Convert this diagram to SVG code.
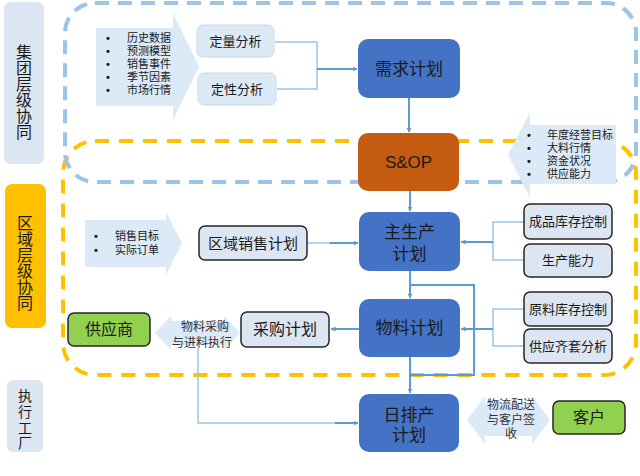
<svg xmlns="http://www.w3.org/2000/svg" width="640" height="476" viewBox="0 0 640 476">
<style>
text{font-family:"Liberation Sans","Noto Sans CJK SC",sans-serif;fill:#1a1a1a;text-anchor:middle;dominant-baseline:central}
.lab{fill:#dce6f2}
.main{fill:#4472c4}
.lb{fill:#dce9f6}
.bx{fill:#dce6f2;stroke:#262626;stroke-width:1.5}
.gr{fill:#92d050;stroke:#262626;stroke-width:1.5}
.soft{fill:#dce9f6;stroke:#c6d9ef;stroke-width:1}
.t17{font-size:17px}
.v16{font-size:16px}
.v15{font-size:14px}
.t13{font-size:13px}
.t11{font-size:11px;text-anchor:start}
.t12{font-size:12px;fill:#333}
.bl{font-size:11px;font-weight:bold}
.c{fill:none;stroke:#5b9bd5;stroke-width:2}
.c2{fill:none;stroke:#9dc3e6;stroke-width:1.5}
</style>
<defs>
<marker id="ah" viewBox="0 0 10 10" refX="9" refY="5" markerWidth="5" markerHeight="5" orient="auto" markerUnits="userSpaceOnUse">
<path d="M0,0 L10,5 L0,10 Z" fill="#5b9bd5"/>
</marker>
</defs>
<rect width="640" height="476" fill="#ffffff"/>

<g id="zones">
<rect x="63" y="141" width="573" height="234" rx="32" fill="none" stroke="#ffc000" stroke-width="4" stroke-dasharray="14 10"/>
<rect x="65" y="3" width="571" height="179" rx="30" fill="none" stroke="#9dc3e6" stroke-width="4" stroke-dasharray="14 9"/>
</g>

<g id="label-group">
<rect class="lab" x="4" y="2" width="40" height="162" rx="7"/>
<text class="v16" x="24" y="52">集</text>
<text class="v16" x="24" y="68">团</text>
<text class="v16" x="24" y="84">层</text>
<text class="v16" x="24" y="100">级</text>
<text class="v16" x="24" y="116">协</text>
<text class="v16" x="24" y="132">同</text>
</g>
<g id="label-region">
<rect x="5" y="184" width="41" height="144" rx="7" fill="#ffc000"/>
<text class="v16" x="25" y="223">区</text>
<text class="v16" x="25" y="239">域</text>
<text class="v16" x="25" y="255">层</text>
<text class="v16" x="25" y="271">级</text>
<text class="v16" x="25" y="287">协</text>
<text class="v16" x="25" y="303">同</text>
</g>
<g id="label-factory">
<rect class="lab" x="7" y="380" width="36" height="72" rx="6"/>
<text class="v15" x="25" y="396">执</text>
<text class="v15" x="25" y="411.8">行</text>
<text class="v15" x="25" y="427.6">工</text>
<text class="v15" x="25" y="443.4">厂</text>
</g>

<g id="connectors">
<path class="c2" d="M275,42 H317 V89 H277"/>
<path class="c" d="M317,69 H357" marker-end="url(#ah)"/>
<path class="c" d="M409,98 V132" marker-end="url(#ah)"/>
<path class="c" d="M410,191 V211" marker-end="url(#ah)"/>
<path class="c2" d="M308,243 H330"/>
<path class="c" d="M330,243 H358" marker-end="url(#ah)"/>
<path class="c2" d="M524,222 H493 V260 H524"/>
<path class="c" d="M493,242 H461" marker-end="url(#ah)"/>
<path class="c" d="M410,271 V298" marker-end="url(#ah)"/>
<path class="c" d="M410,285 H474 V375 H410"/>
<path class="c2" d="M524,309 H493 V346 H524"/>
<path class="c" d="M493,329 H461" marker-end="url(#ah)"/>
<path class="c" d="M359,329 H331" marker-end="url(#ah)"/>
<path class="c" d="M410,357 V393" marker-end="url(#ah)"/>
<path class="c2" d="M198,348 V423 H340"/>
<path class="c" d="M335,423 H358" marker-end="url(#ah)"/>
</g>

<g id="inputs-demand">
<path class="lb" d="M96,28 H173 V13 L199,67 L173,120 V106 H96 Z"/>
<text class="bl" x="108" y="38">•</text><text class="t11" x="127" y="38">历史数据</text>
<text class="bl" x="108" y="51">•</text><text class="t11" x="127" y="51">预测模型</text>
<text class="bl" x="108" y="64">•</text><text class="t11" x="127" y="64">销售事件</text>
<text class="bl" x="108" y="77">•</text><text class="t11" x="127" y="77">季节因素</text>
<text class="bl" x="108" y="90">•</text><text class="t11" x="127" y="90">市场行情</text>
</g>
<g id="quant">
<rect class="soft" x="197" y="25" width="77" height="32" rx="6"/>
<text class="t13" x="235.5" y="41">定量分析</text>
</g>
<g id="qual">
<rect class="soft" x="198" y="73" width="78" height="32" rx="6"/>
<text class="t13" x="237" y="89">定性分析</text>
</g>
<g id="demand-plan">
<rect class="main" x="358" y="39" width="102" height="59" rx="10"/>
<text class="t17" x="409" y="69">需求计划</text>
</g>
<g id="sop">
<rect x="358" y="133" width="101" height="58" rx="10" fill="#c55a11"/>
<text class="t17" x="408.5" y="162">S&amp;OP</text>
</g>
<g id="inputs-sop">
<path class="lb" d="M616,125 H530 V112 L508,155 L530,198 V184 H616 Z"/>
<text class="bl" x="529" y="135">•</text><text class="t11" x="547" y="135">年度经营目标</text>
<text class="bl" x="529" y="148">•</text><text class="t11" x="547" y="148">大料行情</text>
<text class="bl" x="529" y="161">•</text><text class="t11" x="547" y="161">资金状况</text>
<text class="bl" x="529" y="174">•</text><text class="t11" x="547" y="174">供应能力</text>
</g>
<g id="inputs-region">
<path class="lb" d="M85,220 H166 V212 L182,243 L166,275 V267 H85 Z"/>
<text class="bl" x="96" y="236">•</text><text class="t11" x="115" y="236">销售目标</text>
<text class="bl" x="96" y="250">•</text><text class="t11" x="115" y="250">实际订单</text>
</g>
<g id="region-sales">
<rect class="bx" x="199" y="226" width="108" height="34" rx="6"/>
<text x="253" y="243" style="font-size:15px">区域销售计划</text>
</g>
<g id="mps">
<rect class="main" x="359" y="212" width="101" height="59" rx="10"/>
<text class="t17" x="409.5" y="232">主生产</text>
<text class="t17" x="409.5" y="254">计划</text>
</g>
<g id="fg-stock">
<rect class="bx" x="524" y="204" width="88" height="35" rx="6"/>
<text class="t13" x="568" y="221.5">成品库存控制</text>
</g>
<g id="capacity">
<rect class="bx" x="524" y="244" width="88" height="33" rx="6"/>
<text class="t13" x="568" y="260.5">生产能力</text>
</g>
<g id="mrp">
<rect class="main" x="359" y="299" width="101" height="58" rx="10"/>
<text class="t17" x="409.5" y="328">物料计划</text>
</g>
<g id="rm-stock">
<rect class="bx" x="524" y="292" width="88" height="34" rx="6"/>
<text class="t13" x="568" y="309">原料库存控制</text>
</g>
<g id="kitting">
<rect class="bx" x="524" y="329" width="88" height="34" rx="6"/>
<text class="t13" x="568" y="346">供应齐套分析</text>
</g>
<g id="purchase">
<rect class="bx" x="241" y="312" width="88" height="35" rx="6"/>
<text x="285" y="329.5" style="font-size:16px">采购计划</text>
</g>
<g id="supplier">
<rect class="gr" x="68" y="313" width="82" height="33" rx="6"/>
<text x="109" y="329.5" style="font-size:16px">供应商</text>
</g>
<g id="procure-exec">
<path class="lb" d="M155,333 L171,316 V321 H224 V316 L240,333 L224,350 V345 H171 V350 Z"/>
<text class="t12" x="205" y="327">物料采购</text>
<text class="t12" x="202" y="343">与进料执行</text>
</g>
<g id="daily-plan">
<rect class="main" x="359" y="394" width="100" height="58" rx="10"/>
<text class="t17" x="409" y="415">日排产</text>
<text class="t17" x="409" y="435">计划</text>
</g>
<g id="delivery">
<path class="lb" d="M467,420 L485,396 V404 H532 V396 L550,420 L532,444 V436 H485 V444 Z"/>
<text class="t12" x="511" y="405">物流配送</text>
<text class="t12" x="511" y="420">与客户签</text>
<text class="t12" x="511" y="434">收</text>
</g>
<g id="customer">
<rect class="gr" x="553" y="401" width="72" height="33" rx="6"/>
<text x="589" y="417.5" style="font-size:16px">客户</text>
</g>
</svg>
